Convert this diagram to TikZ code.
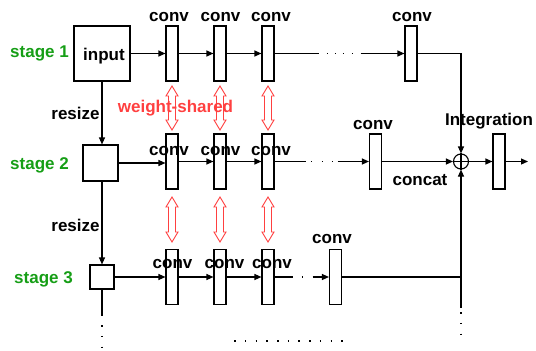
\documentclass[tikz,border=0pt]{standalone}
\usepackage{fontspec}
\setmainfont{Liberation Sans}
\usetikzlibrary{arrows.meta}
\definecolor{stg}{RGB}{22,158,22}
\definecolor{wred}{RGB}{255,64,64}
\begin{document}
\begin{tikzpicture}[x=1pt,y=-1pt,
  lbl/.style={font=\bfseries\fontsize{17}{20}\selectfont, inner sep=0, anchor=base},
  stglbl/.style={lbl, text=stg},
  blk/.style={draw, line width=1.1, minimum width=12, minimum height=55, inner sep=0},
  sbox/.style={draw, line width=1.1, inner sep=0},
  ln/.style={line width=1.1},
  arr/.style={ln, -{Triangle[length=7pt,width=6pt]}},
  wsa/.style={draw=wred, line width=0.9, fill=white},
  dotv/.style={line width=1.3, dash pattern=on 1.5pt off 9.2pt}]
\useasboundingbox (0,0) rectangle (536,351);

% stage boxes
\node[sbox, minimum width=56, minimum height=55] (in1) at (102,53.5) {};
\node[lbl] (tin) at (104,60) {input};
\node[sbox, minimum width=35, minimum height=36] (in2) at (100.5,163) {};
\node[sbox, minimum width=24, minimum height=24] (in3) at (102,277) {};

% conv blocks
\foreach \r/\y in {1/53.5,2/161.5,3/277}{
  \node[blk] (c\r a) at (172,\y) {};
  \node[blk] (c\r b) at (220,\y) {};
  \node[blk] (c\r c) at (268,\y) {};
}
\node[blk] (c1d) at (411,53.5) {};
\node[blk] (c2d) at (375.5,161.5) {};
\node[blk] (c3d) at (335.5,277) {};
\node[blk] (out) at (499,161.5) {};
\coordinate (outend) at (528,161.5);

% plus
\node[draw, circle, line width=1.1, minimum size=15, inner sep=0] (pl) at (461,161.5) {};
\draw[ln] (pl.north) -- (pl.south) (pl.west) -- (pl.east);

% weight shared arrows
\foreach \x in {172,220,268}{
  \foreach \ya/\yb in {86/130,197/242}{
    \draw[wsa] (\x,\ya) -- (\x+6,\ya+10) -- (\x+3.5,\ya+10) -- (\x+3.5,\yb-10)
      -- (\x+6,\yb-10) -- (\x,\yb) -- (\x-6,\yb-10) -- (\x-3.5,\yb-10)
      -- (\x-3.5,\ya+10) -- (\x-6,\ya+10) -- cycle;
  }
}

% conv labels
\node[lbl] (l1a) at (169,21) {conv};
\node[lbl] (l1b) at (220.5,21) {conv};
\node[lbl] (l1c) at (271,21) {conv};
\node[lbl] (l1d) at (412,21) {conv};
\node[lbl] (l2a) at (169,155) {conv};
\node[lbl] (l2b) at (220.5,155) {conv};
\node[lbl] (l2c) at (271,155) {conv};
\node[lbl] (l2d) at (373,129) {conv};
\node[lbl] (l3a) at (172.5,268) {conv};
\node[lbl] (l3b) at (224.5,268) {conv};
\node[lbl] (l3c) at (272,268) {conv};
\node[lbl] (l3d) at (332,243) {conv};

% other labels
\node[stglbl] (s1) at (39.5,57) {stage 1};
\node[stglbl] (s2) at (39.5,169) {stage 2};
\node[stglbl] (s3) at (43.5,283) {stage 3};
\node[lbl] (r1) at (75.5,119) {resize};
\node[lbl] (r2) at (75.5,231) {resize};
\node[lbl, text=wred] (ws) at (175.5,112) {weight-shared};
\node[lbl] (integ) at (489,125) {Integration};
\node[lbl] (concat) at (420,185) {concat};

% row connectors
\draw[arr] (in1.east) -- (c1a.west);
\draw[arr] (in2.east) -- (in2.east -| c2a.west);
\draw[arr] (in3.east) -- (c3a.west);
\foreach \r in {1,2,3}{
  \draw[arr] (c\r a.east) -- (c\r b.west);
  \draw[arr] (c\r b.east) -- (c\r c.west);
}
\draw[arr, dash pattern=on 44pt off 8.25pt on 1.5pt off 6.5pt on 1.5pt off 6.5pt on 1.5pt off 7.5pt on 1.5pt off 7.25pt on 80pt] (c1c.east) -- (c1d.west);
\draw[arr, dash pattern=on 31pt off 5.25pt on 1.5pt off 9.5pt on 1.5pt off 8.5pt on 1.5pt off 4.25pt on 80pt] (c2c.east) -- (c2d.west);
\draw[arr, dash pattern=on 18pt off 9.25pt on 1.5pt off 9.25pt on 60pt] (c3c.east) -- (c3d.west);

\draw[arr] (c1d.east) -| (pl.north);
\draw[arr] (c2d.east) -- (pl.west);
\draw[arr] (pl.east) -- (out.west);
\draw[arr] (out.east) -- (outend);
\draw[arr] (c3d.east) -| (pl.south);
\coordinate (j3) at (461,277);
\coordinate (j3e) at (461,308);
\draw[ln] (j3) -- (j3e);
\draw[dotv] (461,312.25) -- (461,338);

% vertical resize connectors
\draw[arr] (in1.south) -- (in1.south |- in2.north);
\draw[arr] (in3.north |- in2.south) -- (in3.north);
\coordinate (v3e) at (102,316);
\draw[ln] (in3.south) -- (v3e);
\draw[dotv] (102,325.25) -- (102,350);

% bottom dots
\draw[dotv] (234.25,341) -- (344,341);
\end{tikzpicture}
\end{document}
